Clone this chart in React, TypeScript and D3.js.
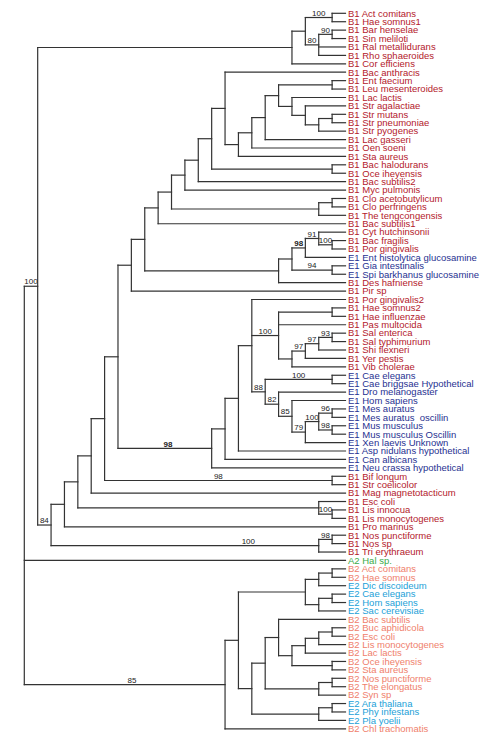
import React from 'react';
import * as d3 from 'd3';

const W = 500;
const H = 741;

// ---- Tree data (Newick pieces). Internal labels = bootstrap support; "*" = bold, "@f" = label position along branch
const TOP_CLADE =
  '(((B1 Act comitans,B1 Hae somnus1)100,((B1 Bar henselae,B1 Sin meliloti)90,B1 Ral metallidurans,B1 Rho sphaeroides)80),B1 Cor efficiens)';
const STREP = '(B1 Str agalactiae,((B1 Str mutans,B1 Str pneumoniae),B1 Str pyogenes))';
const LACTO = `(((((B1 Ent faecium,B1 Leu mesenteroides),(B1 Lac lactis,${STREP})),B1 Lac gasseri),B1 Oen soeni),B1 Sta aureus)`;
const CLOSTRIDIA = '((B1 Clo acetobutylicum,B1 Clo perfringens),B1 The tengcongensis)';
const FIRMICUTES = `((((((B1 Bac anthracis,${LACTO}),(B1 Bac halodurans,B1 Oce iheyensis)),B1 Bac subtilis2),B1 Myc pulmonis),${CLOSTRIDIA}),B1 Bac subtilis1)`;
const BACTEROIDETES =
  '((((B1 Cyt hutchinsonii,(B1 Bac fragilis,B1 Por gingivalis)100)91,E1 Ent histolytica glucosamine)98*,(E1 Gia intestinalis,E1 Spi barkhanus glucosamine)94),B1 Des hafniense)';
const GROUP1 = `((${FIRMICUTES},${BACTEROIDETES}),B1 Pir sp)`;
const PROTEO =
  '((B1 Hae somnus2,B1 Hae influenzae),B1 Pas multocida,((((B1 Sal enterica,B1 Sal typhimurium)93,B1 Shi flexneri)97,B1 Yer pestis)97,B1 Vib cholerae))100';
const METAZOA =
  '((E1 Cae elegans,E1 Cae briggsae Hypothetical)100,(E1 Dro melanogaster,(E1 Hom sapiens,(((E1 Mes auratus,E1 Mes auratus  oscillin)96,(E1 Mus musculus,E1 Mus musculus Oscillin)98)100,E1 Xen laevis Unknown)79)85)82)88';
const EUKARYA1 = `((((B1 Por gingivalis2,${PROTEO},${METAZOA}),E1 Asp nidulans hypothetical),E1 Can albicans),E1 Neu crassa hypothetical)98*@0.534`;
const GROUP_B1 = `(((((${GROUP1},${EUKARYA1}),(B1 Bif longum,B1 Str coelicolor)98),B1 Mag magnetotacticum),(B1 Esc coli,(B1 Lis innocua,B1 Lis monocytogenes)100)),B1 Pro marinus)`;
const CYANO = '((B1 Nos punctiforme,B1 Nos sp)98,B1 Tri erythraeum)100@0.737';
const CLADE_A = `(${TOP_CLADE},(${GROUP_B1},${CYANO})84)100`;
const LOWER =
  '(((((B2 Act comitans,B2 Hae somnus),E2 Dic discoideum),((E2 Cae elegans,E2 Hom sapiens),E2 Sac cerevisiae)),(((B2 Bac subtilis,((((B2 Buc aphidicola,B2 Esc coli),B2 Lis monocytogenes),B2 Lac lactis),(B2 Oce iheyensis,B2 Sta aureus))),((B2 Nos punctiforme,B2 The elongatus),B2 Syn sp)),((E2 Ara thaliana,E2 Phy infestans),E2 Pla yoelii))),B2 Chl trachomatis)85@0.536';
const TREE = `(${CLADE_A},A2 Hal sp.,${LOWER});`;

const GROUP_COLORS: Record<string, string> = {
  B1: '#b3202b',
  E1: '#1f3191',
  A2: '#3aab4a',
  B2: '#ef806c',
  E2: '#1c9fd8',
};

type RawNode = { name: string; children?: RawNode[] };

function parseNewick(s: string): RawNode {
  let i = 0;
  const readLabel = () => {
    const st = i;
    while (i < s.length && !',();'.includes(s[i])) i++;
    return s.slice(st, i);
  };
  const node = (): RawNode => {
    if (s[i] === '(') {
      i++;
      const children = [node()];
      while (s[i] === ',') {
        i++;
        children.push(node());
      }
      i++;
      return { name: readLabel(), children };
    }
    return { name: readLabel() };
  };
  return node();
}

export default function App() {
  const root = d3.hierarchy<RawNode>(parseNewick(TREE), (d) => d.children);
  const leaves = root.leaves();
  const yScale = d3.scaleLinear().domain([0, leaves.length - 1]).range([13.3, 728.8]);
  const xScale = d3.scaleLinear().domain([root.height, 0]).range([24.3, 345.5]);
  const Y = new Map<any, number>();
  leaves.forEach((l, i) => Y.set(l, yScale(i)));
  root.eachAfter((n) => {
    if (n.children) {
      Y.set(n, (Y.get(n.children[0])! + Y.get(n.children[n.children.length - 1])!) / 2);
    }
  });
  const X = (n: any) => xScale(n.height);

  const edges: string[] = [];
  const supports: { x: number; y: number; t: string; bold: boolean; key: number }[] = [];
  let k = 0;
  root.each((n) => {
    const x = X(n);
    const y = Y.get(n)!;
    if (n.children) {
      const y1 = Y.get(n.children[0])!;
      const y2 = Y.get(n.children[n.children.length - 1])!;
      edges.push(`M${x},${y1}V${y2}`);
    }
    if (n.parent) {
      const px = X(n.parent);
      edges.push(`M${px},${y}H${x}`);
      if (n.children && n.data.name) {
        let lab = n.data.name;
        let frac = 0.5;
        if (lab.includes('@')) {
          const [a, b] = lab.split('@');
          lab = a;
          frac = +b;
        }
        const bold = lab.endsWith('*');
        if (bold) lab = lab.slice(0, -1);
        supports.push({ x: px + (x - px) * frac, y: y - 1.8, t: lab, bold, key: k++ });
      }
    }
  });

  const font = "'Liberation Sans', Arial, Helvetica, sans-serif";

  return (
    <svg
      width={W}
      height={H}
      style={{ position: 'absolute', left: 0, top: 0, background: '#fff' }}
      fontFamily={font}
    >
      <g fill="none" stroke="#333" strokeWidth={1.2} strokeLinecap="square">
        {edges.map((d, i) => (
          <path key={i} d={d} />
        ))}
      </g>
      <g fontSize={8} fill="#222" textAnchor="middle">
        {supports.map((s) => (
          <text key={s.key} x={s.x} y={s.y} fontWeight={s.bold ? 'bold' : 'normal'}>
            {s.t}
          </text>
        ))}
      </g>
      <g fontSize={9.5}>
        {leaves.map((l, i) => (
          <text
            key={i}
            x={xScale(0) + 2.5}
            y={Y.get(l)!}
            dy="0.35em"
            fill={GROUP_COLORS[l.data.name.slice(0, 2)] || '#000'}
            style={{ whiteSpace: 'pre' }}
          >
            {l.data.name}
          </text>
        ))}
      </g>
    </svg>
  );
}
